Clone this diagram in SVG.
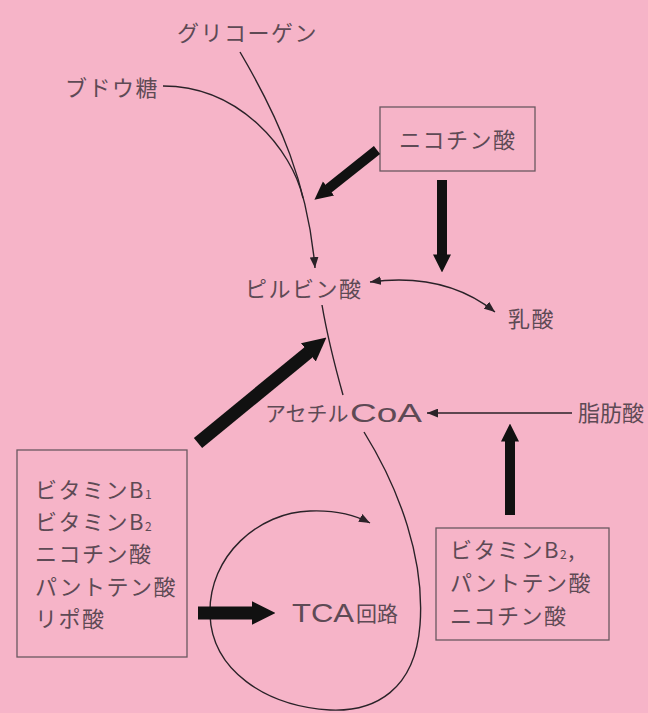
<svg xmlns="http://www.w3.org/2000/svg" width="648" height="713" viewBox="0 0 648 713">
<defs>
<style>
.t{font-family:"Noto Sans CJK JP","Noto Sans",sans-serif;font-size:22px;letter-spacing:1.5px;fill:#5e4a55}
.w{font-family:"Liberation Sans","Noto Sans",sans-serif;font-size:25px;fill:#5e4a55}
.box{fill:none;stroke:#6a5860;stroke-width:1.3}
.thin{fill:none;stroke:#2a2228;stroke-width:1.4}
.thick{fill:none;stroke:#111;stroke-linecap:butt}
</style>
<marker id="ah" viewBox="0 0 10 8" markerWidth="11" markerHeight="9" refX="10" refY="4" orient="auto-start-reverse" markerUnits="userSpaceOnUse"><path d="M0,0 L10,4 L0,8 z" fill="#2a2228"/></marker>
<marker id="big" viewBox="0 0 10 10" markerWidth="1.8" markerHeight="2.6" refX="0.3" refY="5" orient="auto" markerUnits="strokeWidth"><path d="M0,0 L10,5 L0,10 z" fill="#111"/></marker>
</defs>
<rect width="648" height="713" fill="#f6b4c8"/>
<g id="glycogen"><text class="t" x="177" y="41">グリコーゲン</text></g>
<g id="glucose"><text class="t" x="65" y="96">ブドウ糖</text></g>
<g id="niacin1"><rect class="box" x="380" y="107" width="155" height="64"/><text class="t" x="399" y="148">ニコチン酸</text></g>
<g id="pyruvate"><text class="t" x="245" y="297">ピルビン酸</text></g>
<g id="lactate"><text class="t" x="508" y="327">乳酸</text></g>
<g id="acetylcoa"><text class="t" x="265" y="421" style="font-size:21px;letter-spacing:0">アセチル</text><text class="w" x="350" y="422" textLength="72" lengthAdjust="spacingAndGlyphs">CoA</text></g>
<g id="fattyacid"><text class="t" x="578" y="421" style="letter-spacing:0">脂肪酸</text></g>
<g id="vitbox1"><rect class="box" x="17" y="450" width="170" height="207"/>
<text class="t" x="35" y="498">ビタミンB<tspan font-size="12" dy="1">1</tspan></text>
<text class="t" x="35" y="530">ビタミンB<tspan font-size="12" dy="1">2</tspan></text>
<text class="t" x="35" y="562">ニコチン酸</text>
<text class="t" x="35" y="595">パントテン酸</text>
<text class="t" x="35" y="627">リポ酸</text></g>
<g id="vitbox2"><rect class="box" x="436" y="528" width="173" height="112"/>
<text class="t" x="450" y="558">ビタミンB<tspan font-size="12" dy="1">2</tspan><tspan dy="-1">,</tspan></text>
<text class="t" x="450" y="591">パントテン酸</text>
<text class="t" x="450" y="624">ニコチン酸</text></g>
<g id="tca"><text class="w" x="292" y="622" textLength="62" lengthAdjust="spacingAndGlyphs">TCA</text><text class="t" x="356" y="621" style="font-size:21px;letter-spacing:0">回路</text></g>
<g id="connectors">
<path class="thin" d="M240,52 C280,120 308,185 315,268" marker-end="url(#ah)"/>
<path class="thin" d="M163,86 C240,86 292,150 303,198"/>
<path class="thin" d="M370,282 Q445,272 495,312" marker-start="url(#ah)" marker-end="url(#ah)"/>
<path class="thin" d="M322,305 C328,340 336,370 343,395"/>
<path class="thin" d="M572,413 L427,413" marker-end="url(#ah)"/>
<path class="thin" d="M364,432 C400,490 425,560 420,625 C415,690 375,712 330,710 C265,706 212,670 210,615 C208,555 260,512 310,511 C335,510 355,515 370,523" marker-end="url(#ah)"/>
<path class="thick" stroke-width="10" d="M377,150 L328.1,188.8" marker-end="url(#big)"/>
<path class="thick" stroke-width="10" d="M442,180 L442,255" marker-end="url(#big)"/>
<path class="thick" stroke-width="13" d="M198,443 L308.9,351.9" marker-end="url(#big)"/>
<path class="thick" stroke-width="13" d="M198,613 L252.6,613" marker-end="url(#big)"/>
<path class="thick" stroke-width="10" d="M510,515 L510,441" marker-end="url(#big)"/>
</g>
</svg>
